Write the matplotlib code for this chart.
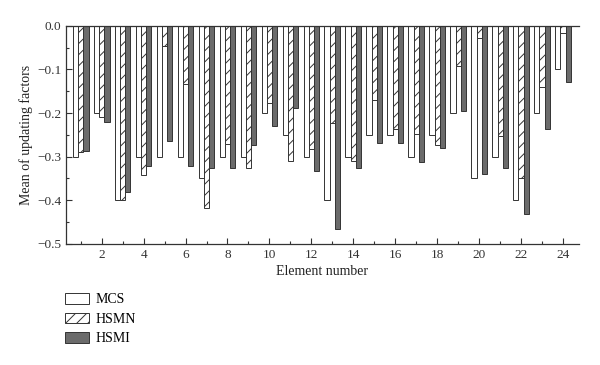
import matplotlib.pyplot as plt
import numpy as np
from matplotlib.ticker import MultipleLocator

plt.rcParams['font.family'] = ['Liberation Serif', 'DejaVu Serif']
plt.rcParams['hatch.linewidth'] = 0.7

elements = np.arange(1, 25)
mcs = [-0.30, -0.20, -0.40, -0.30, -0.30, -0.30, -0.35, -0.30, -0.30, -0.20, -0.25, -0.30,
       -0.40, -0.30, -0.25, -0.25, -0.30, -0.25, -0.20, -0.35, -0.30, -0.40, -0.20, -0.10]
hsmn = [-0.29, -0.21, -0.40, -0.343, -0.047, -0.133, -0.418, -0.271, -0.326, -0.177, -0.311, -0.282,
        -0.223, -0.31, -0.171, -0.237, -0.248, -0.274, -0.093, -0.028, -0.252, -0.35, -0.141, -0.017]
hsmi = [-0.288, -0.221, -0.38, -0.321, -0.264, -0.321, -0.325, -0.325, -0.273, -0.229, -0.189, -0.332,
        -0.466, -0.326, -0.268, -0.268, -0.313, -0.279, -0.195, -0.339, -0.326, -0.431, -0.236, -0.128]

fig = plt.figure(figsize=(6, 3.65), dpi=100)
ax = fig.add_axes([0.11, 0.332, 0.855, 0.597])

w = 0.25
edge = '#333333'
ax.bar(elements - w, mcs, w, color='white', edgecolor=edge, linewidth=0.7, label='MCS')
ax.bar(elements, hsmn, w, color='white', edgecolor=edge, linewidth=0.7, hatch='///', label='HSMN')
ax.bar(elements + w, hsmi, w, color='#6b6b6b', edgecolor=edge, linewidth=0.7, label='HSMI')

ax.set_xlim(0.3, 24.76)
ax.set_ylim(-0.5, 0.0)
ax.xaxis.set_major_locator(MultipleLocator(2))
ax.xaxis.set_minor_locator(MultipleLocator(1))
ax.yaxis.set_major_locator(MultipleLocator(0.1))
ax.yaxis.set_minor_locator(MultipleLocator(0.05))
ax.yaxis.set_major_formatter(plt.FuncFormatter(lambda v, p: f'{v:.1f}'.replace('-', '\u2212') if abs(v) > 1e-9 else '0.0'))
ax.tick_params(which='both', direction='in', labelsize=9.5, colors='#333333', width=0.8)
ax.tick_params(which='major', length=4)
ax.tick_params(which='minor', length=2.5)
ax.spines['right'].set_visible(False)
for s in ['left', 'bottom', 'top']:
    ax.spines[s].set_color('#333333')
    ax.spines[s].set_linewidth(0.9)

ax.set_xlabel('Element number', fontsize=10, color='#222222', labelpad=3)
ax.set_ylabel('Mean of updating factors', fontsize=10, color='#222222', labelpad=3)

fig.legend(loc='upper left', bbox_to_anchor=(0.099, 0.212), frameon=False, fontsize=10,
           handlelength=1.7, handleheight=0.8, labelspacing=0.45, handletextpad=0.5,
           borderaxespad=0)

fig.savefig('out.png', dpi=100)
